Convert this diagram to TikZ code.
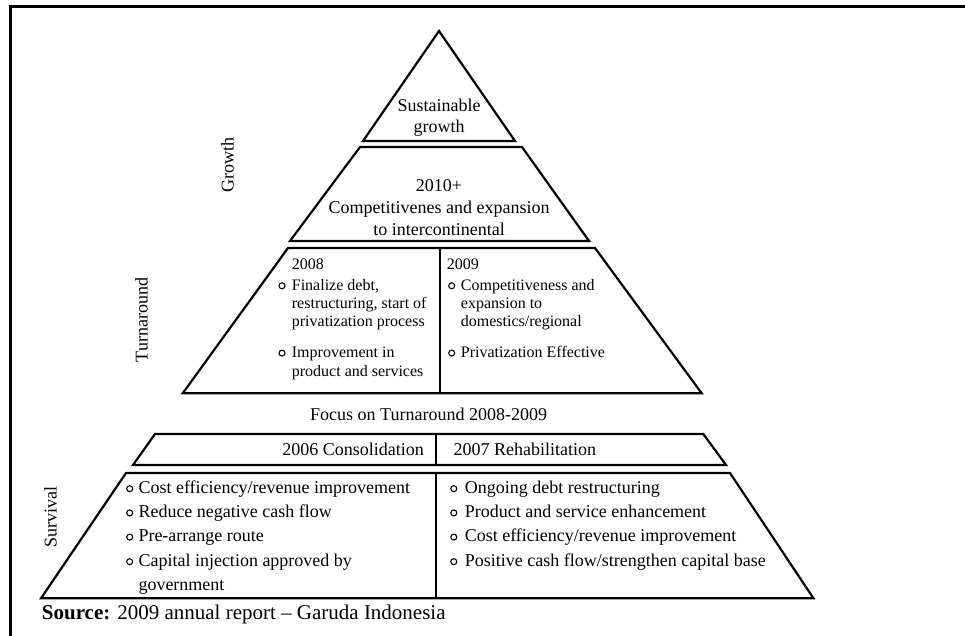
\documentclass[tikz,border=0pt]{standalone}
\usepackage{fontspec}
\setmainfont{Liberation Serif}
\begin{document}
\begin{tikzpicture}[x=1pt,y=-1pt,
  shp/.style={draw, line width=2.2pt, line join=miter},
  dvd/.style={draw, line width=2pt},
  frm/.style={draw, line width=2.8pt, line join=miter},
  ta/.style={font=\fontsize{18}{20}\selectfont, inner sep=0pt},
  tb/.style={font=\fontsize{16}{18}\selectfont, inner sep=0pt},
  ts/.style={font=\fontsize{21}{23}\selectfont, inner sep=0pt},
  bul/.style={draw, line width=1.1pt},
  lw/.style={anchor=base west},
  lc/.style={anchor=base},
  rot/.style={ta, anchor=base, rotate=90}]
\useasboundingbox (0,0) rectangle (965,636);
% frame
\draw[frm] (10.5,636) -- (10.5,6.3) -- (965,6.3);
% pyramid
\draw[shp] (439,31) -- (515,141) -- (363,141) -- cycle;
\draw[shp] (360,147) -- (522,147) -- (589,241) -- (290,241) -- cycle;
\draw[shp] (288,248) -- (595,248) -- (701.7,393.3) -- (182.7,393.3) -- cycle;
\draw[dvd] (439.5,248) -- (439.5,393.3);
\draw[shp] (155,434) -- (703.3,434) -- (726,465) -- (133,465) -- cycle;
\draw[dvd] (436,434) -- (436,465);
\draw[shp] (126,473) -- (730,473) -- (813.5,598.3) -- (41,598.3) -- cycle;
\draw[dvd] (436,473) -- (436,598.3);
% top
\node[ta,lc] (sus1) at (439,111.7) {Sustainable};
\node[ta,lc] (sus2) at (439,132.5) {growth};
\node[ta,lc] (gr1) at (439,191.7) {2010+};
\node[ta,lc] (gr2) at (439,213.5) {Competitivenes and expansion};
\node[ta,lc] (gr3) at (439,235.3) {to intercontinental};
% 2008
\node[tb,lw] (a0) at (291.7,269) {2008};
\node[tb,lw] (a1) at (291.7,290) {Finalize debt,};
\node[tb,lw] (a2) at (291.7,308.3) {restructuring, start of};
\node[tb,lw] (a3) at (291.7,326.6) {privatization process};
\node[tb,lw] (a4) at (291.7,357.3) {Improvement in};
\node[tb,lw] (a5) at (291.7,376) {product and services};
\draw[bul] (282,285.8) circle[radius=3pt];
\draw[bul] (282,353.1) circle[radius=3pt];
% 2009
\node[tb,lw] (b0) at (446.7,269) {2009};
\node[tb,lw] (b1) at (460.7,290) {Competitiveness and};
\node[tb,lw] (b2) at (460.7,308.3) {expansion to};
\node[tb,lw] (b3) at (460.7,326.6) {domestics/regional};
\node[tb,lw] (b4) at (460.7,357.3) {Privatization Effective};
\draw[bul] (451.7,285.8) circle[radius=3pt];
\draw[bul] (451.7,353.1) circle[radius=3pt];
% focus
\node[ta,lc] (focus) at (428.6,420) {Focus on Turnaround 2008-2009};
\node[ta,anchor=base east] (c06) at (424,455.5) {2006 Consolidation};
\node[ta,lw] (c07) at (453.5,455.5) {2007 Rehabilitation};
% bottom left
\node[ta,lw] (l1) at (138.3,493.3) {Cost efficiency/revenue improvement};
\node[ta,lw] (l2) at (138.3,517.5) {Reduce negative cash flow};
\node[ta,lw] (l3) at (138.3,541.7) {Pre-arrange route};
\node[ta,lw] (l4) at (138.3,566.3) {Capital injection approved by};
\node[ta,lw] (l5) at (138.3,590.3) {government};
\foreach \yy in {493.3,517.5,541.7,566.3}
  \draw[bul] (129.7,\yy-4.6) circle[radius=3pt];
% bottom right
\node[ta,lw] (r1) at (464.6,493.3) {Ongoing debt restructuring};
\node[ta,lw] (r2) at (464.6,517.5) {Product and service enhancement};
\node[ta,lw] (r3) at (464.6,541.7) {Cost efficiency/revenue improvement};
\node[ta,lw] (r4) at (464.6,566.3) {Positive cash flow/strengthen capital base};
\foreach \yy in {493.3,517.5,541.7,566.3}
  \draw[bul] (453.8,\yy-4.6) circle[radius=3pt];
% side labels
\node[rot] (growth) at (233.5,165) {Growth};
\node[rot] (turn) at (147.5,320) {Turnaround};
\node[rot] (surv) at (56.5,517) {Survival};
% source
\node[ts,lw] (src) at (41.7,619) {\textbf{Source:} 2009 annual report – Garuda Indonesia};
\end{tikzpicture}
\end{document}
